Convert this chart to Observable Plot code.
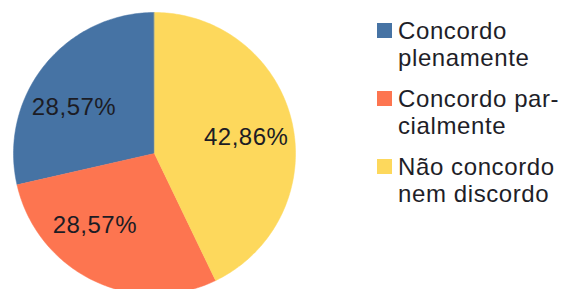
<!DOCTYPE html>
<html>
<head>
<meta charset="utf-8">
<script src="https://cdn.jsdelivr.net/npm/d3@7"></script>
<script src="https://cdn.jsdelivr.net/npm/@observablehq/plot@0.6"></script>
<style>
  html, body { margin: 0; padding: 0; background: #ffffff; }
  #wrap { position: relative; width: 561px; height: 289px; overflow: hidden; font-family: "Liberation Sans", Arial, sans-serif; }
  #legend { position: absolute; left: 377px; top: 17px; }
  .entry { position: relative; padding-left: 21px; font-size: 24px; line-height: 27px; letter-spacing: 0.6px; color: #1e1e28; white-space: pre-line; margin-bottom: 14px; }
  .sw { position: absolute; left: 0; top: 6px; width: 15px; height: 15px; }
  svg text { letter-spacing: 0.5px; }
</style>
</head>
<body>
<div id="wrap"><div id="legend"></div></div>
<script>
const categories = ["Concordo plenamente", "Concordo parcialmente", "Não concordo nem discordo"];
const values = [28.57, 28.57, 42.86];
const valueLabels = ["28,57%", "28,57%", "42,86%"];
const legendLabels = ["Concordo\nplenamente", "Concordo par-\ncialmente", "Não concordo\nnem discordo"];
const colors = ["#4673a4", "#fd7550", "#fdd85c"];

// Slices run counter-clockwise starting from 12 o'clock
const total = d3.sum(values);
const slices = [];
let acc = 0;
values.forEach((v, i) => {
  const a0 = acc / total * 360, a1 = (acc + v) / total * 360;
  slices.push({cat: categories[i], a0, a1, label: valueLabels[i]});
  acc += v;
});
const rad = d => d * Math.PI / 180;
const pt = a => ({x: -Math.sin(rad(a)), y: Math.cos(rad(a))});
const pts = [];
for (const s of slices) {
  pts.push({cat: s.cat, x: 0, y: 0});
  const n = Math.max(2, Math.ceil(s.a1 - s.a0));
  for (let k = 0; k <= n; k++) {
    const p = pt(s.a0 + (s.a1 - s.a0) * k / n);
    pts.push({cat: s.cat, x: p.x, y: p.y});
  }
}
const labels = slices.map(s => {
  const mid = (s.a0 + s.a1) / 2;
  const target = mid < 180 ? 90 : 270;
  const a = mid + 0.22 * (target - mid);
  const p = pt(a);
  return {x: p.x * 0.66, y: p.y * 0.66, text: s.label};
});

const chart = Plot.plot({
  width: 561,
  height: 289,
  margin: 0,
  style: {background: "#ffffff", fontFamily: "'Liberation Sans', Arial, sans-serif"},
  x: {domain: [-1, 1], range: [13, 295], axis: null},
  y: {domain: [-1, 1], range: [294, 12], axis: null},
  color: {domain: categories, range: colors},
  marks: [
    Plot.line(pts, {x: "x", y: "y", z: "cat", fill: "cat", stroke: "cat", strokeWidth: 0.5, curve: "linear-closed"}),
    Plot.text(labels, {x: "x", y: "y", text: "text", fontSize: 24, fill: "#1c1c24"})
  ]
});
document.getElementById("wrap").prepend(chart);
chart.style.position = "absolute";
chart.style.left = "0";
chart.style.top = "0";

const legend = document.getElementById("legend");
categories.forEach((c, i) => {
  const e = document.createElement("div");
  e.className = "entry";
  const sw = document.createElement("span");
  sw.className = "sw";
  sw.style.background = colors[i];
  e.appendChild(sw);
  e.appendChild(document.createTextNode(legendLabels[i]));
  legend.appendChild(e);
});
</script>
</body>
</html>
